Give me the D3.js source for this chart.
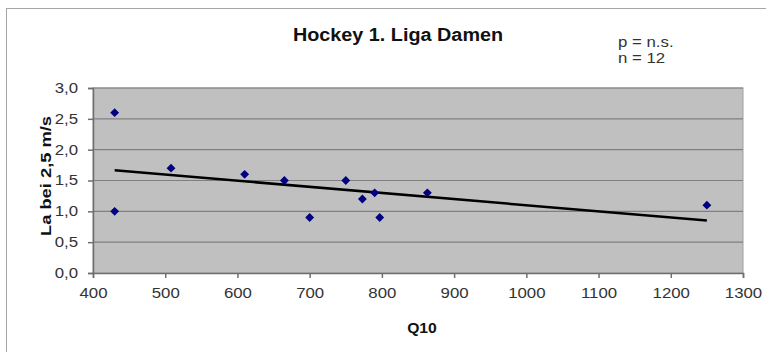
<!DOCTYPE html>
<html>
<head>
<meta charset="utf-8">
<script src="https://cdn.jsdelivr.net/npm/d3@7"></script>
<style>
  body { margin: 0; background: #fff; }
  svg { display: block; font-family: Arial, "Liberation Sans", sans-serif; }
</style>
</head>
<body>
<div id="vis"></div>
<script>
var width = 766;
var height = 352;

// data
var q10 = [430, 430, 508, 610, 665, 700, 750, 773, 790, 797, 863, 1250];
var la = [2.6, 1.0, 1.7, 1.6, 1.5, 0.9, 1.5, 1.2, 1.3, 0.9, 1.3, 1.1];
var xTicks = [400, 500, 600, 700, 800, 900, 1000, 1100, 1200, 1300];
var yTicks = [0, 0.5, 1, 1.5, 2, 2.5, 3];
var titleText = "Hockey 1. Liga Damen";
var statLines = ["p = n.s.", "n = 12"];

var plot = { left: 93, right: 743, top: 88, bottom: 273 };

var svg = d3.select('#vis').append('svg')
    .attr('width', width)
    .attr('height', height);

// widen text a bit, the original font runs wider than Arial
function stretch(sel, f) {
    sel.each(function () {
        var len = this.getComputedTextLength();
        d3.select(this).attr('textLength', len * f).attr('lengthAdjust', 'spacingAndGlyphs');
    });
}

// outer chart frame (runs off right / bottom edge)
svg.append('rect')
    .attr('x', 6.5).attr('y', 8.5)
    .attr('width', 800).attr('height', 400)
    .attr('fill', '#fff')
    .attr('stroke', '#a6a6a6');

var x = d3.scaleLinear().domain([400, 1300]).range([plot.left, plot.right]);
var y = d3.scaleLinear().domain([0, 3]).range([plot.bottom, plot.top]);

// plot area
svg.append('rect')
    .attr('x', plot.left).attr('y', plot.top)
    .attr('width', plot.right - plot.left)
    .attr('height', plot.bottom - plot.top)
    .attr('fill', '#c0c0c0')
    .attr('stroke', '#a0a0a0');

// gridlines
svg.append('g').selectAll('line')
    .data(yTicks.slice(1))
    .enter().append('line')
    .attr('x1', plot.left).attr('x2', plot.right)
    .attr('y1', function (d) { return y(d); })
    .attr('y2', function (d) { return y(d); })
    .attr('stroke', '#808080')
    .attr('stroke-width', 1.2);

var fmt = function (d) { return d3.format('.1f')(d).replace('.', ','); };

var yAxis = svg.append('g')
    .attr('transform', 'translate(' + plot.left + ',0)')
    .call(d3.axisLeft(y).tickValues(yTicks).tickFormat(fmt).tickSize(5).tickPadding(10));
var xAxis = svg.append('g')
    .attr('transform', 'translate(0,' + plot.bottom + ')')
    .call(d3.axisBottom(x).tickValues(xTicks).tickFormat(d3.format('d')).tickSize(5).tickPadding(10));

[yAxis, xAxis].forEach(function (g) {
    g.selectAll('path, line').attr('stroke', '#6f6f6f').attr('stroke-width', 1.5);
    g.selectAll('text')
        .attr('fill', '#333')
        .style('font-size', '14px')
        .call(stretch, 1.2);
});

// regression trend line
var mx = d3.mean(q10), my = d3.mean(la);
var sxy = d3.sum(q10, function (d, i) { return (d - mx) * (la[i] - my); });
var sxx = d3.sum(q10, function (d) { return (d - mx) * (d - mx); });
var slope = sxy / sxx;
var icpt = my - slope * mx;
var xExt = d3.extent(q10);

svg.append('line')
    .attr('x1', x(xExt[0])).attr('y1', y(icpt + slope * xExt[0]))
    .attr('x2', x(xExt[1])).attr('y2', y(icpt + slope * xExt[1]))
    .attr('stroke', '#000')
    .attr('stroke-width', 2.5);

// markers
svg.append('g').selectAll('path')
    .data(q10)
    .enter().append('path')
    .attr('d', d3.symbol().type(d3.symbolDiamond2).size(50))
    .attr('transform', function (d, i) { return 'translate(' + x(d) + ',' + y(la[i]) + ')'; })
    .attr('fill', '#000080');

// titles
svg.append('text')
    .attr('x', 398).attr('y', 41)
    .attr('text-anchor', 'middle')
    .style('font-size', '18px').style('font-weight', 'bold')
    .attr('fill', '#111')
    .text(titleText)
    .call(stretch, 1.1);

svg.append('g').selectAll('text')
    .data(statLines)
    .enter().append('text')
    .attr('x', 618)
    .attr('y', function (d, i) { return 47 + i * 15.5; })
    .style('font-size', '14px')
    .attr('fill', '#333')
    .text(function (d) { return d; })
    .call(stretch, 1.2);

svg.append('text')
    .attr('x', 422).attr('y', 333)
    .attr('text-anchor', 'middle')
    .style('font-size', '14px').style('font-weight', 'bold')
    .attr('fill', '#111')
    .text('Q10')
    .call(stretch, 1.12);

svg.append('text')
    .attr('transform', 'translate(51,176) rotate(-90)')
    .attr('text-anchor', 'middle')
    .style('font-size', '15px').style('font-weight', 'bold')
    .attr('fill', '#111')
    .text('La bei 2,5 m/s')
    .call(stretch, 1.22);
</script>
</body>
</html>
